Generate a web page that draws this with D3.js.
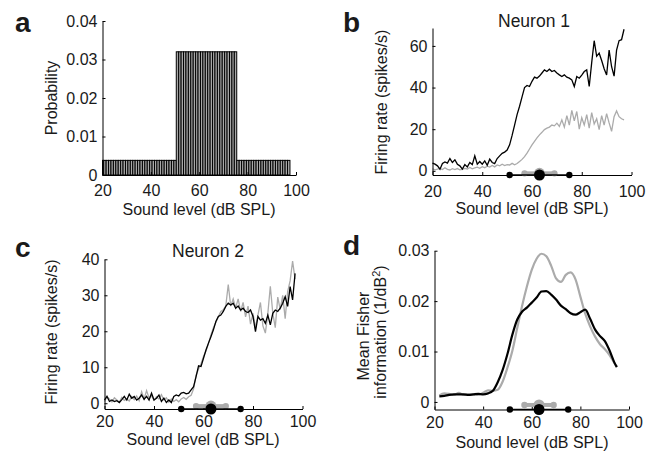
<!DOCTYPE html>
<html><head><meta charset="utf-8">
<script src="https://cdn.jsdelivr.net/npm/d3@7"></script>
<style>
body{margin:0;background:#fff}
svg{display:block}
text{font-family:"Liberation Sans",Arial,Helvetica,sans-serif;fill:#1a1a1a}
</style>
</head><body>
<svg id="chart" width="658" height="454"></svg>
<script>
// ---------- DATA ----------
const xTicks = [20, 40, 60, 80, 100];

// panel a : stimulus distribution (1 dB bins)
const probLevels = d3.range(20, 98);
const probValues = [
  0.0038,0.0038,0.0038,0.0038,0.0038,0.0038,0.0038,0.0038,0.0038,0.0038,
  0.0038,0.0038,0.0038,0.0038,0.0038,0.0038,0.0038,0.0038,0.0038,0.0038,
  0.0038,0.0038,0.0038,0.0038,0.0038,0.0038,0.0038,0.0038,0.0038,0.0038,
  0.0038,
  0.032,0.032,0.032,0.032,0.032,0.032,0.032,0.032,0.032,0.032,
  0.032,0.032,0.032,0.032,0.032,0.032,0.032,0.032,0.032,0.032,
  0.032,0.032,0.032,0.032,0.032,
  0.0038,0.0038,0.0038,0.0038,0.0038,0.0038,0.0038,0.0038,0.0038,0.0038,
  0.0038,0.0038,0.0038,0.0038,0.0038,0.0038,0.0038,0.0038,0.0038,0.0038,
  0.0038,0.0038
];
const probTicks = [0, 0.01, 0.02, 0.03, 0.04];

// panels b, c : firing rates, 1 dB steps 20..97
const rateLevels = d3.range(20, 98);
const neuron1Black = [
  3.7,3.2,2.4,0.8,3.5,4.3,3.7,5.9,4.0,5.3,
  3.2,2.4,0.8,3.0,1.9,4.0,3.0,7.2,3.2,4.5,
  3.2,4.8,2.7,5.6,4.0,3.5,5.9,7.2,8.4,9.0,
  10.0,12.5,17,22,27,31,35.5,40,41,40.5,
  43,45,44.5,45.5,47,48.5,47.7,48.8,47.7,48.2,
  47,46.1,45.3,46.1,45,44.5,43.7,40.5,45.3,44.5,
  46,47.7,48.5,40.5,52,62.5,55,56.5,53,49,
  46,58,50,45.5,58,62.5,63,68
];
const neuron1Gray = [
  1.0,0.5,0.8,1.2,0.6,1.5,0.7,0.4,1.0,0.6,
  1.1,0.5,0.7,1.2,0.9,1.6,1.0,1.4,1.8,1.2,
  2.0,1.5,2.2,1.8,2.6,1.9,2.8,2.4,3.2,2.5,
  3.0,2.8,3.6,2.9,3.5,4.5,5.5,6.8,8.5,10.5,
  12.5,14.2,15.8,17.3,18.5,19.8,20.5,21.0,22.0,21.6,
  22.9,21.3,24.5,21.0,26.5,22.0,29.0,24.0,28.5,20.0,
  25.5,22.0,27.0,20.5,28.0,22.5,25.0,19.8,26.5,22.0,
  27.5,23.0,19.0,26.0,28.8,26.0,25.0,24.5
];
const neuron1Ticks = [0, 20, 40, 60];

const neuron2Black = [
  0.9,1.9,0.5,0.9,0.5,0.7,0.2,1.0,1.9,0.9,
  2.5,1.4,1.9,0.9,1.4,2.3,1.1,1.9,0.9,2.8,
  0.9,1.4,2.3,0.5,1.4,0.2,0.9,0.2,1.9,2.3,
  2.0,2.8,3.0,2.6,2.8,3.7,4.6,7.4,10.4,10.2,
  12.5,14.8,16.7,18.5,20.4,22.7,24.1,24.5,25.5,26.9,
  27.8,27.3,27.8,26.4,27.0,25.9,26.4,25.5,25.2,25.9,
  24.1,19.9,24.1,23.1,23.5,22.2,24.5,21.8,25.0,25.9,
  25.5,26.4,27.8,29.6,26.9,32.4,28.7,36.1
];
const neuron2Gray = [
  0.5,1.8,1.2,0.4,1.5,0.9,0.3,1.6,0.8,1.2,
  0.6,1.9,1.0,2.0,0.7,3.2,1.2,3.5,1.5,2.0,
  0.8,1.8,1.2,2.4,0.9,1.5,0.3,1.2,0.5,1.0,
  0.4,1.2,1.6,1.1,1.8,2.2,4.0,7.8,9.5,11.0,
  13.0,14.5,16.5,19.0,21.0,22.5,24.0,25.5,26.0,27.0,
  33.0,27.0,29.0,26.5,29.0,25.5,28.0,24.0,27.0,22.0,
  25.0,21.0,24.5,28.0,21.5,19.5,25.0,32.5,25.0,21.0,
  29.5,26.0,30.0,23.5,31.0,34.0,39.5,34.5
];
const neuron2Ticks = [0, 10, 20, 30, 40];

// panel d : mean Fisher information
const fisherLevels = [22,24,26,28,30,32,34,36,38,40,42,44,46,48,50,52,54,56,58,60,
  62,64,66,68,70,72,74,76,78,80,82,84,86,88,90,92,94,95];
const fisherBlack = [
  0.0011,0.0012,0.0014,0.0015,0.0015,0.0015,0.0014,0.0015,0.0016,0.0015,
  0.0017,0.0022,0.0039,0.0063,0.0095,0.0133,0.0163,0.0179,0.0187,0.0197,
  0.0207,0.0219,0.0220,0.0213,0.0203,0.0191,0.0184,0.0176,0.0173,0.0178,
  0.0183,0.0165,0.0144,0.0131,0.0121,0.0102,0.0078,0.0069
];
const fisherGray = [
  0.0013,0.0017,0.0016,0.0014,0.0018,0.0014,0.0015,0.0015,0.0014,0.0018,
  0.0023,0.0022,0.0024,0.0040,0.0068,0.0101,0.0146,0.0190,0.0229,0.0262,
  0.0284,0.0294,0.0289,0.0270,0.0245,0.0238,0.0252,0.0257,0.0243,0.0209,
  0.0175,0.0150,0.0130,0.0115,0.0105,0.0093,0.0077,0.0070
];
const fisherTicks = [0, 0.01, 0.02, 0.03];

// stimulus-statistics markers (black: wide distribution, gray: narrow)
const blackRange = [51, 75];
const blackMean = 63;
const grayRange = [57, 69];
const grayMean = 63;

// ---------- STYLE ----------
const GRAY = "#ababab";
const svg = d3.select("#chart");
svg.append("rect").attr("width", 658).attr("height", 454).attr("fill", "#fff");

function axes(g, x, y, yTicks, yFmt, xPad, yPad) {
  g.append("g").attr("transform", `translate(0,${y.range()[0]})`)
    .call(d3.axisBottom(x).tickValues(xTicks).tickSizeInner(-3).tickSizeOuter(0).tickPadding(xPad))
    .call(s => s.selectAll("text").attr("font-size", 16).attr("fill", "#1a1a1a").attr("font-family", null))
    .call(s => s.selectAll("line,path").attr("stroke", "#000").attr("stroke-width", 1));
  g.append("g").attr("transform", `translate(${x.range()[0]},0)`)
    .call(d3.axisLeft(y).tickValues(yTicks).tickFormat(yFmt).tickSizeInner(-3).tickSizeOuter(0).tickPadding(yPad))
    .call(s => s.selectAll("text").attr("font-size", 16).attr("fill", "#1a1a1a").attr("font-family", null))
    .call(s => s.selectAll("line,path").attr("stroke", "#000").attr("stroke-width", 1));
}
const fmtProb = d => d === 0 ? "0" : d3.format(".2f")(d);
const fmtInt = d3.format("d");

function label(txt, x, y, opts = {}) {
  const t = svg.append("text").attr("x", x).attr("y", y).text(txt)
    .attr("font-size", opts.size || 16).attr("text-anchor", opts.anchor || "middle");
  if (opts.bold) t.attr("font-weight", "bold");
  if (opts.rotate) t.attr("transform", `rotate(-90,${x},${y})`);
  return t;
}

function markers(g, x, yBlack, yGray) {
  g.append("line").attr("x1", x(grayRange[0])).attr("x2", x(grayRange[1]))
    .attr("y1", yGray).attr("y2", yGray).attr("stroke", GRAY).attr("stroke-width", 4);
  g.selectAll(".gd").data(grayRange).join("circle")
    .attr("cx", d => x(d)).attr("cy", yGray).attr("r", 3.2).attr("fill", GRAY);
  g.append("circle").attr("cx", x(grayMean)).attr("cy", yGray).attr("r", 5.5).attr("fill", GRAY);
  g.append("line").attr("x1", x(blackRange[0])).attr("x2", x(blackRange[1]))
    .attr("y1", yBlack).attr("y2", yBlack).attr("stroke", "#000").attr("stroke-width", 1.6);
  g.selectAll(".bd").data(blackRange).join("circle")
    .attr("cx", d => x(d)).attr("cy", yBlack).attr("r", 3.2).attr("fill", "#000");
  g.append("circle").attr("cx", x(blackMean)).attr("cy", yBlack).attr("r", 5.5).attr("fill", "#000");
}

// ---------- PANEL A ----------
{
  const x = d3.scaleLinear([20, 100], [102.5, 296]);
  const y = d3.scaleLinear([0, 0.04], [175, 21]);
  const g = svg.append("g");
  g.selectAll("rect.bar").data(probLevels).join("rect").attr("class", "bar")
    .attr("x", (d) => Math.max(x(d - 0.5), x(20)))
    .attr("width", (d) => x(d + 0.5) - Math.max(x(d - 0.5), x(20)))
    .attr("y", (d, i) => y(probValues[i]))
    .attr("height", (d, i) => y(0) - y(probValues[i]))
    .attr("fill", "#a8a8a8").attr("stroke", "#000").attr("stroke-width", 1);
  axes(g, x, y, probTicks, fmtProb, 10, 5);
  label("Probability", 57, 98, {rotate: true});
  label("Sound level (dB SPL)", 199, 215);
  label("a", 15, 32, {size: 28, bold: true, anchor: "start"});
}

// ---------- PANEL B ----------
{
  const x = d3.scaleLinear([20, 100], [432.5, 631.5]);
  const y = d3.scaleLinear([-2, 68.6], [175, 28]);
  const g = svg.append("g");
  const line = d3.line().x((d, i) => x(rateLevels[i])).y(d => y(d));
  g.append("path").attr("d", line(neuron1Gray)).attr("fill", "none").attr("stroke", GRAY).attr("stroke-width", 1.3);
  g.append("path").attr("d", line(neuron1Black)).attr("fill", "none").attr("stroke", "#000").attr("stroke-width", 1.3);
  axes(g, x, y, neuron1Ticks, fmtInt, 11, 5);
  markers(g, x, y(-2), y(-1.2));
  label("Firing rate (spikes/s)", 387, 102, {rotate: true});
  label("Sound level (dB SPL)", 532, 214);
  label("Neuron 1", 534, 27, {size: 17.5});
  label("b", 343, 32, {size: 28, bold: true, anchor: "start"});
}

// ---------- PANEL C ----------
{
  const x = d3.scaleLinear([20, 100], [104.5, 302.5]);
  const y = d3.scaleLinear([-1.6, 40], [409, 259.3]);
  const g = svg.append("g");
  const line = d3.line().x((d, i) => x(rateLevels[i])).y(d => y(d));
  g.append("path").attr("d", line(neuron2Gray)).attr("fill", "none").attr("stroke", GRAY).attr("stroke-width", 1.3);
  g.append("path").attr("d", line(neuron2Black)).attr("fill", "none").attr("stroke", "#000").attr("stroke-width", 1.3);
  axes(g, x, y, neuron2Ticks, fmtInt, 7, 5);
  markers(g, x, y(-1.6), y(-0.8));
  label("Firing rate (spikes/s)", 57, 332, {rotate: true});
  label("Sound level (dB SPL)", 203, 445);
  label("Neuron 2", 208, 257, {size: 17.5});
  label("c", 15, 257, {size: 28, bold: true, anchor: "start"});
}

// ---------- PANEL D ----------
{
  const x = d3.scaleLinear([20, 100], [434.5, 629]);
  const y = d3.scaleLinear([-0.0015, 0.03], [409.5, 250.7]);
  const g = svg.append("g");
  const line = d3.line().curve(d3.curveMonotoneX).x((d, i) => x(fisherLevels[i])).y(d => y(d));
  g.append("path").attr("d", line(fisherGray)).attr("fill", "none").attr("stroke", GRAY).attr("stroke-width", 2.2);
  g.append("path").attr("d", line(fisherBlack)).attr("fill", "none").attr("stroke", "#000").attr("stroke-width", 2.2);
  axes(g, x, y, fisherTicks, fmtProb, 7, 5);
  markers(g, x, y(-0.0015), y(-0.0006));
  label("Mean Fisher", 369, 336, {rotate: true});
  const t = label("information (1/dB", 386, 332, {rotate: true});
  t.append("tspan").attr("baseline-shift", "super").attr("font-size", 11).text("2");
  t.append("tspan").text(")");
  label("Sound level (dB SPL)", 532, 448);
  label("d", 343, 255, {size: 28, bold: true, anchor: "start"});
}
</script>
</body></html>
